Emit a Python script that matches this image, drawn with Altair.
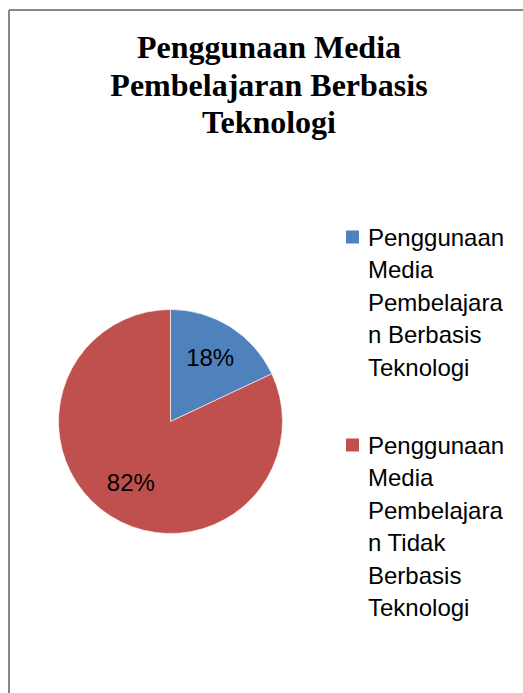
import altair as alt
import pandas as pd

# ---- data ----
categories = [
    "Penggunaan Media Pembelajaran Berbasis Teknologi",
    "Penggunaan Media Pembelajaran Tidak Berbasis Teknologi",
]
values = [18, 82]
pct_labels = ["18%", "82%"]
legend_lines = [
    ["Penggunaan", "Media", "Pembelajara", "n Berbasis", "Teknologi"],
    ["Penggunaan", "Media", "Pembelajara", "n Tidak", "Berbasis", "Teknologi"],
]
title_lines = ["Penggunaan Media", "Pembelajaran Berbasis", "Teknologi"]
colors = ["#4F81BD", "#C0504D"]

df = pd.DataFrame({
    "kategori": categories,
    "nilai": values,
    "label": pct_labels,
    "urut": list(range(len(categories))),
    "legenda": ["\n".join(l) for l in legend_lines],
})

W, H = 514, 683
CX, CY, R = 161.5, 411.5, 112

color_scale = alt.Scale(domain=categories, range=colors)

base = alt.Chart(df).encode(
    theta=alt.Theta("nilai:Q", stack=True),
    order=alt.Order("urut:Q"),
    x=alt.value(CX),
    y=alt.value(CY),
)

pie = base.mark_arc(outerRadius=R, stroke="#ffffff", strokeWidth=0.6).encode(
    color=alt.Color("kategori:N", scale=color_scale, legend=None)
)

txt = base.mark_text(
    radius=74, font="Liberation Sans", fontSize=24, color="#000000",
    align="center", baseline="middle",
).encode(text="label:N")

# legend drawn as marks, positioned through a point scale
leg_y = alt.Y("urut:O", scale=alt.Scale(type="point", range=[227, 435], padding=0), axis=None)
leg_base = alt.Chart(df).encode(y=leg_y)
leg_sym = leg_base.mark_square(size=169, opacity=1, strokeWidth=0).encode(
    x=alt.value(343.5),
    color=alt.Color("kategori:N", scale=color_scale, legend=None),
)
leg_txt = leg_base.mark_text(
    font="Liberation Sans", fontSize=24, color="#000000", align="left",
    baseline="alphabetic", lineBreak="\n", lineHeight=32.5, dy=8.6,
).encode(x=alt.value(359), text="legenda:N")

edge = pd.DataFrame({"k": [0]})
left_border = alt.Chart(edge).mark_rule(color="#878787", strokeWidth=2).encode(
    x=alt.value(0), y=alt.value(0), y2=alt.value(H)
)
top_border = alt.Chart(edge).mark_rule(color="#878787", strokeWidth=2).encode(
    x=alt.value(0), x2=alt.value(W), y=alt.value(0)
)

chart = alt.layer(left_border, top_border, pie, txt, leg_sym, leg_txt).properties(
    width=W,
    height=H,
    autosize=alt.AutoSizeParams(type="none"),
    padding={"left": 9, "top": 10, "right": 0, "bottom": 0},
    title=alt.TitleParams(
        text=title_lines,
        font="Liberation Serif",
        fontSize=32,
        fontWeight="bold",
        color="#000000",
        lineHeight=37.5,
        anchor="middle",
        frame="group",
        orient="top",
        baseline="alphabetic",
        offset=-156,
        dx=3,
    ),
).configure_view(stroke=None).configure(background="#ffffff")

chart.save("out.html", embed_options={"renderer": "svg", "actions": False})
